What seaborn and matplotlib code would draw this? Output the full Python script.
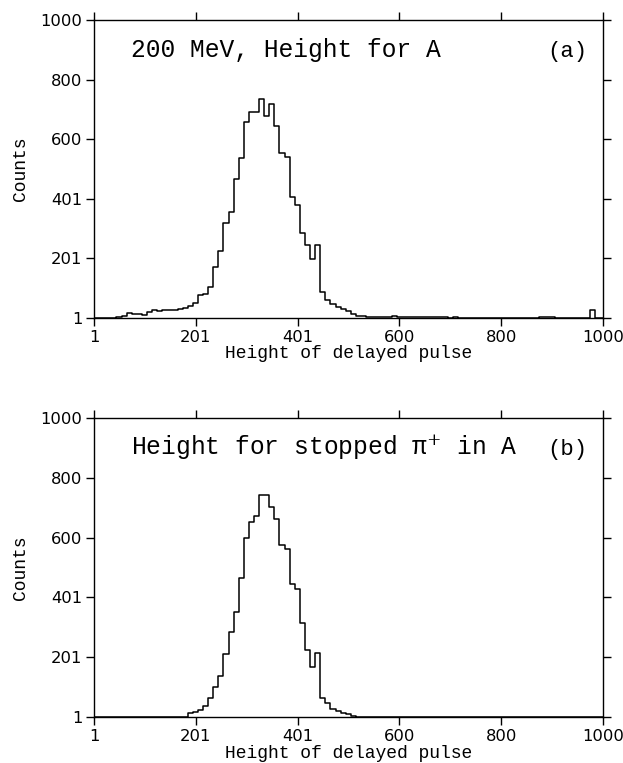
import numpy as np
import pandas as pd
import matplotlib
matplotlib.use("Agg")
import matplotlib.pyplot as plt
import seaborn as sns

# channel bins (10 channels wide), centres 0..1000
channels = np.arange(0, 1001, 10)

counts_a = [
    1, 1, 1, 1, 1, 2, 7, 17, 15, 13,
    9, 20, 28, 24, 26, 27, 28, 31, 35, 40,
    49, 78, 82, 105, 170, 226, 320, 357, 465, 536,
    658, 692, 692, 734, 678, 717, 644, 555, 539, 405,
    378, 284, 244, 197, 244, 87, 62, 46, 36, 31,
    25, 15, 8, 6, 5, 4, 3, 5, 4, 7,
    3, 2, 2, 2, 2, 2, 2, 2, 2, 2,
    1, 2, 1, 1, 1, 1, 1, 1, 1, 1,
    1, 1, 1, 1, 1, 1, 1, 1, 2, 2,
    3, 1, 1, 1, 1, 1, 1, 1, 28, 1,
    1,
]

counts_b = [
    1, 1, 1, 1, 2, 3, 3, 3, 3, 2,
    2, 2, 1, 1, 1, 1, 1, 1, 1, 15,
    20, 26, 38, 66, 102, 140, 212, 285, 353, 465,
    598, 651, 672, 743, 743, 701, 661, 574, 561, 444,
    430, 314, 224, 170, 215, 64, 48, 29, 22, 15,
    12, 5, 3, 2, 2, 2, 2, 3, 2, 2,
    1, 1, 1, 1, 1, 1, 1, 1, 1, 1,
    1, 1, 1, 1, 1, 1, 1, 1, 1, 1,
    1, 1, 1, 1, 1, 1, 1, 1, 1, 1,
    1, 1, 1, 1, 1, 1, 1, 1, 1, 1,
    1,
]

tick_vals = [1, 201, 401, 600, 800, 1000]
tick_labels = ["1", "201", "401", "600", "800", "1000"]

titles = ["200 MeV, Height for A", "Height for stopped π$^{+}$ in A"]
panel_tags = ["(a)", "(b)"]

sns.set_style("ticks")
plt.rcParams["font.family"] = ["DejaVu Sans"]
plt.rcParams["mathtext.fontset"] = "dejavuserif"
for k in ["text.color", "axes.labelcolor", "xtick.color", "ytick.color"]:
    plt.rcParams[k] = "black"

fig = plt.figure(figsize=(6.23, 7.63), dpi=100)
ax_a = fig.add_axes([0.1509, 0.5836, 0.817, 0.3902])
ax_b = fig.add_axes([0.1509, 0.0599, 0.817, 0.3927])

edges = [float(c) - 5 for c in channels] + [float(channels[-1]) + 5]
mono = "Liberation Mono"

for ax, counts, title, tag in zip([ax_a, ax_b], [counts_a, counts_b], titles, panel_tags):
    df = pd.DataFrame({"channel": channels, "count": counts})
    sns.histplot(data=df, x="channel", weights="count", bins=edges, element="step",
                 fill=False, color="black", linewidth=1.1, ax=ax)
    ax.set_xlim(1, 1000)
    ax.set_ylim(1, 1000)
    ax.set_xticks(tick_vals)
    ax.set_xticklabels(tick_labels)
    ax.set_yticks(tick_vals)
    ax.set_yticklabels(tick_labels)
    ax.tick_params(which="major", direction="out", length=6, width=1,
                   top=True, right=True, labelsize=11.8, pad=2.5, color="black")
    for s in ax.spines.values():
        s.set_linewidth(1.0)
        s.set_color("black")
    ax.set_ylabel("Counts", family=mono, fontsize=13)
    ax.yaxis.set_label_coords(-0.128, 0.5)
    ax.set_xlabel("Height of delayed pulse", family=mono, fontsize=13)
    ax.xaxis.set_label_coords(0.5, -0.135)
    ax.xaxis.label.set_va("baseline")
    ax.text(0.072, 0.877, title, transform=ax.transAxes, family=mono,
            fontsize=17.7, ha="left", va="baseline")
    ax.text(0.969, 0.877, tag, transform=ax.transAxes, family=mono,
            fontsize=16, ha="right", va="baseline")

fig.savefig("out.png", dpi=100, facecolor="white")
